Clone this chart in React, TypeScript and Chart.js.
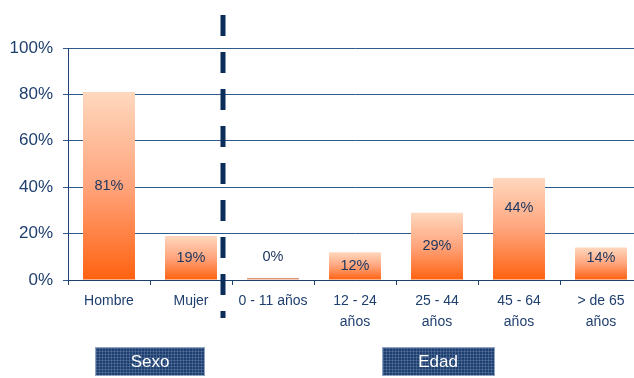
import React, { useEffect, useRef } from "react";
import { Chart, registerables } from "chart.js";

Chart.register(...registerables);

const categories: (string | string[])[] = [
  "Hombre",
  "Mujer",
  "0 - 11 años",
  ["12 - 24", "años"],
  ["25 - 44", "años"],
  ["45 - 64", "años"],
  ["> de 65", "años"],
];
const values = [81, 19, 0, 12, 29, 44, 14];
const valueLabels = ["81%", "19%", "0%", "12%", "29%", "44%", "14%"];
// vertical level (in % units) where each value label sits
const labelLevels = [40.5, 9.5, 10, 6, 14.5, 31, 9.5];
const yTicks = [0, 20, 40, 60, 80, 100];
const groupNames = ["Sexo", "Edad"];
// category index spans of each group
const groupSpans = [
  [0, 1],
  [2, 6],
];

const FONT = "'Liberation Sans', Arial, sans-serif";
const NAVY = "#1F3F6E";

export default function App() {
  const ref = useRef<HTMLCanvasElement | null>(null);

  useEffect(() => {
    const canvas = ref.current;
    if (!canvas) return;

    const overlay = {
      id: "overlay",
      afterDatasetsDraw(chart: any) {
        const ctx = chart.ctx;
        const xs = chart.scales.x;
        const ys = chart.scales.y;
        // value labels
        ctx.save();
        ctx.fillStyle = "#1F3860";
        ctx.font = `14.5px ${FONT}`;
        ctx.textAlign = "center";
        ctx.textBaseline = "middle";
        values.forEach((_, i) => {
          ctx.fillText(valueLabels[i], xs.getPixelForValue(i), ys.getPixelForValue(labelLevels[i]));
        });
        ctx.restore();

        // dashed separator
        const a = xs.getPixelForValue(1);
        const b = xs.getPixelForValue(2);
        const sx = Math.round(a + (b - a) * 0.39);
        ctx.save();
        ctx.strokeStyle = "#0B2D5A";
        ctx.lineWidth = 5;
        ctx.setLineDash([21, 16]);
        ctx.beginPath();
        ctx.moveTo(sx, 15);
        ctx.lineTo(sx, 318);
        ctx.stroke();
        ctx.restore();

        // group boxes
        const boxW = [110, 113];
        groupNames.forEach((name, g) => {
          const [s, e] = groupSpans[g];
          const cx = g === 0
            ? (xs.getPixelForValue(s) + xs.getPixelForValue(e)) / 2
            : (xs.getPixelForValue(s) + xs.getPixelForValue(e)) / 2 + 1;
          const w = boxW[g];
          const x0 = Math.round(cx - w / 2);
          const y0 = 347;
          const h = 29;
          ctx.save();
          ctx.fillStyle = "#1E3E6D";
          ctx.fillRect(x0, y0, w, h);
          ctx.fillStyle = "rgba(120,150,190,0.35)";
          for (let xx = x0 + 1; xx < x0 + w; xx += 3) ctx.fillRect(xx, y0, 1, h);
          for (let yy = y0 + 1; yy < y0 + h; yy += 3) ctx.fillRect(x0, yy, w, 1);
          ctx.strokeStyle = "#8FA3C2";
          ctx.lineWidth = 1;
          ctx.strokeRect(x0 + 0.5, y0 + 0.5, w - 1, h - 1);
          ctx.fillStyle = "#FFFFFF";
          ctx.font = `17px ${FONT}`;
          ctx.textAlign = "center";
          ctx.textBaseline = "middle";
          ctx.fillText(name, cx, y0 + h / 2 + 1);
          ctx.restore();
        });
      },
    };

    const chart = new Chart(canvas, {
      type: "bar",
      data: {
        labels: categories,
        datasets: [
          {
            data: values,
            minBarLength: 2,
            barPercentage: 0.634,
            categoryPercentage: 1,
            borderWidth: 0,
            backgroundColor: (c: any) => {
              const ch = c.chart;
              const area = ch.chartArea;
              if (!area || !ch.scales.y) return "#FF8A50";
              const v = values[c.dataIndex] ?? 0;
              if (v === 0) return "#E29A78";
              const top = ch.scales.y.getPixelForValue(v);
              const g = ch.ctx.createLinearGradient(0, top, 0, area.bottom);
              g.addColorStop(0, "#FFD8BE");
              g.addColorStop(0.5, "#FFA47C");
              g.addColorStop(1, "#FF6210");
              return g;
            },
          },
        ],
      },
      options: {
        responsive: false,
        animation: false,
        devicePixelRatio: 1,
        layout: { padding: { top: 48, left: 0, right: 0, bottom: 0 } },
        plugins: { legend: { display: false }, tooltip: { enabled: false } },
        scales: {
          x: {
            afterFit: (s: any) => {
              s.height = 98;
            },
            grid: {
              display: true,
              drawOnChartArea: false,
              drawTicks: true,
              tickLength: 5,
              color: NAVY,
              offset: true,
            },
            border: { display: true, color: NAVY, width: 1 },
            ticks: {
              color: NAVY,
              font: { family: FONT, size: 14, lineHeight: 1.5 },
              padding: 6,
              maxRotation: 0,
              autoSkip: false,
            },
          },
          y: {
            min: 0,
            max: 100,
            afterFit: (s: any) => {
              s.width = 68;
            },
            afterBuildTicks: (s: any) => {
              s.ticks = yTicks.map((v) => ({ value: v }));
            },
            grid: {
              color: "#2F5A8C",
              lineWidth: 1,
              tickLength: 5,
            },
            border: { display: true, color: NAVY, width: 1 },
            ticks: {
              color: NAVY,
              font: { family: FONT, size: 17 },
              padding: 10,
              callback: (v: any) => `${v}%`,
            },
          },
        },
      },
      plugins: [overlay],
    });

    return () => chart.destroy();
  }, []);

  return (
    <div style={{ position: "fixed", left: 0, top: 0, width: 634, height: 378, overflow: "hidden", background: "#fff" }}>
      <canvas ref={ref} width={642} height={378} style={{ display: "block", width: 642, height: 378 }} />
    </div>
  );
}
